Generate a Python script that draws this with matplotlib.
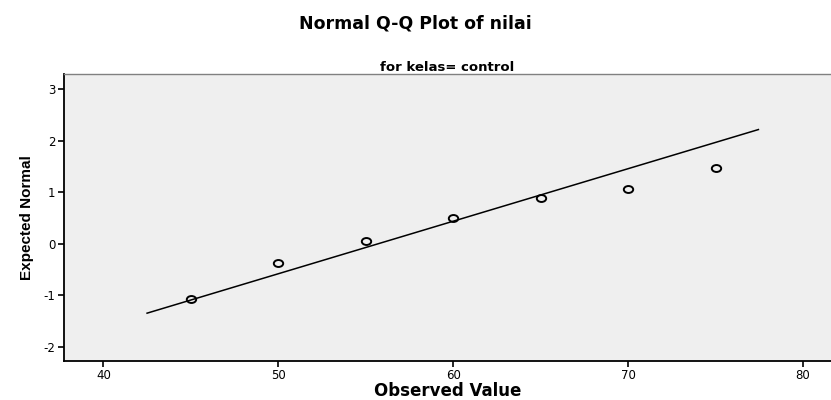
import matplotlib
matplotlib.use("Agg")
import matplotlib.pyplot as plt
from matplotlib.markers import MarkerStyle
from matplotlib.transforms import Affine2D

# observed values and expected normal scores
observed = [45, 50, 55, 60, 65, 70, 75]
expected = [-1.07, -0.37, 0.06, 0.50, 0.88, 1.07, 1.47]

# reference line end points
line_x = [42.5, 77.45]
line_y = [-1.35, 2.22]

xticks = [40, 50, 60, 70, 80]
yticks = [-2, -1, 0, 1, 2, 3]

plt.rcParams['font.family'] = ['DejaVu Sans']
plt.rcParams['axes.unicode_minus'] = False

fig = plt.figure(figsize=(8.31, 4.0), dpi=100)
ax = fig.add_axes([0.077, 0.0975, 0.923, 0.7175])
ax.set_facecolor('#efefef')

ax.plot(line_x, line_y, color='black', lw=1.1)
oval = MarkerStyle('o', transform=Affine2D().scale(1.35, 1.0))
ax.plot(observed, expected, linestyle='none', marker=oval, ms=5,
        mfc='none', mec='black', mew=1.4)

ax.set_xlim(37.75, 81.6)
ax.set_ylim(-2.28, 3.3)
ax.set_xticks(xticks)
ax.set_yticks(yticks)
ax.tick_params(axis='both', direction='out', length=4, width=1.2,
               labelsize=8.5, colors='black', pad=2)

for s in ['left', 'bottom']:
    ax.spines[s].set_linewidth(1.3)
    ax.spines[s].set_color('black')
ax.spines['top'].set_color('#808080')
ax.spines['top'].set_linewidth(1.0)
ax.spines['right'].set_visible(False)

ax.set_xlabel('Observed Value', fontsize=12, fontweight='bold', labelpad=0)
ax.set_ylabel('Expected Normal', fontsize=11, fontweight='bold',
              family=['Liberation Sans'], labelpad=7)

fig.text(0.5, 0.942, 'Normal Q-Q Plot of nilai', ha='center', va='center',
         fontsize=12.5, fontweight='bold')
ax.set_title('for kelas= control', fontsize=9.5, fontweight='bold', pad=2)

fig.savefig('out.png', dpi=100)
